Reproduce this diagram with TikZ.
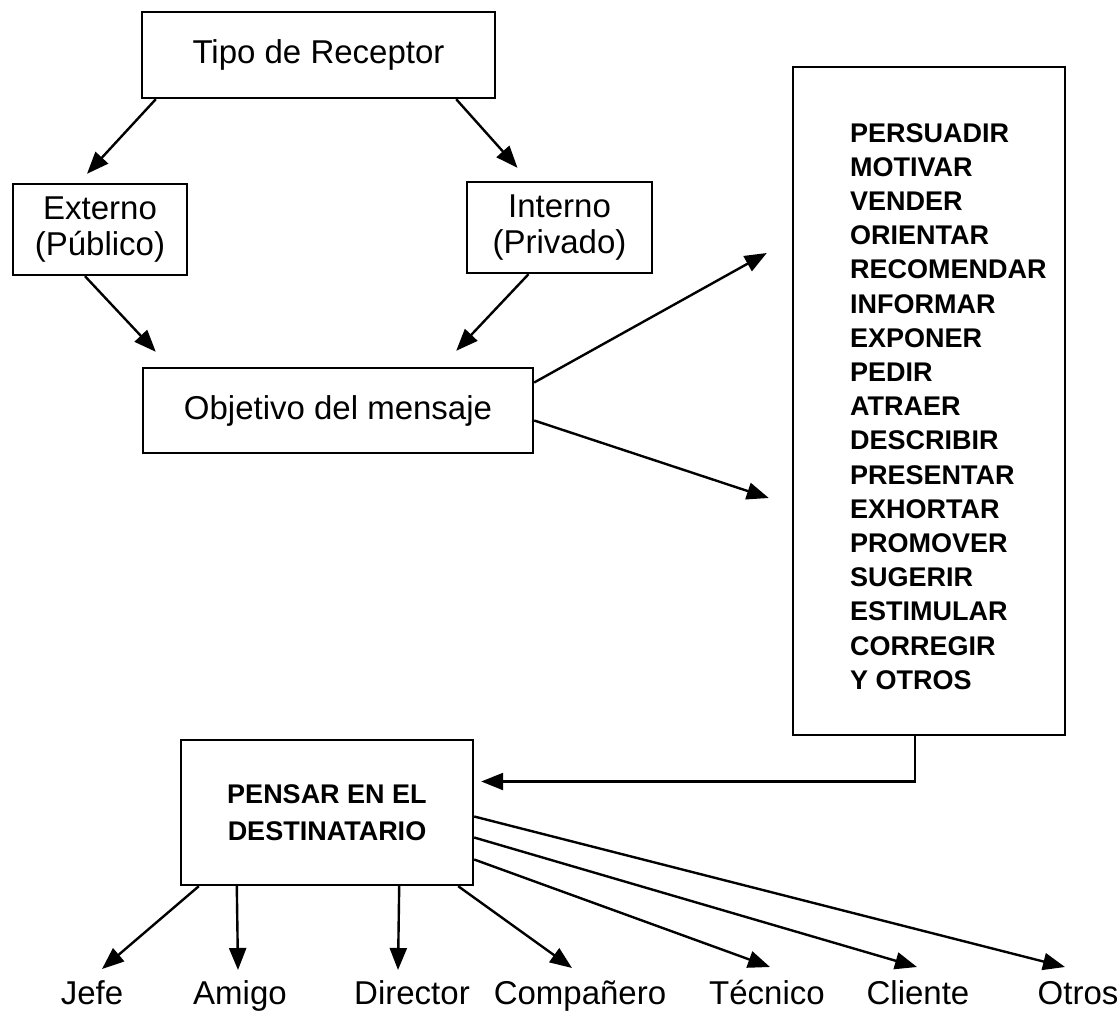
\documentclass[tikz,border=0pt]{standalone}
\usepackage{fontspec}
\setmainfont{Liberation Sans}
\usetikzlibrary{arrows.meta, positioning, calc}

\begin{document}
\begin{tikzpicture}[x=1pt, y=-1pt,
    box/.style={draw, line width=2.4pt, inner sep=0pt, align=center,
      font=\fontsize{33}{36}\selectfont},
    capsbox/.style={box, font=\bfseries\fontsize{27}{37}\selectfont},
    verblist/.style={anchor=north west, inner sep=0pt, align=left,
      font=\bfseries\fontsize{27}{34.2}\selectfont},
    arr/.style={line width=2.4pt, -{Triangle[length=22pt,width=17pt]}},
    lbl/.style={anchor=base, inner sep=0pt, font=\fontsize{33}{36}\selectfont}]
  \useasboundingbox (0,0) rectangle (1120,1017);

  \node[box, minimum width=353, minimum height=86] (tipo) at (318.5,55) {Tipo de Receptor};
  \node[box, minimum width=174, minimum height=91] (ext) at (100,229.5) {Externo\\(Público)};
  \node[box, minimum width=185, minimum height=91] (int) at (559.5,227.5) {Interno\\(Privado)};
  \node[box, minimum width=390, minimum height=85] (obj) at (338,410.5) {Objetivo del mensaje};
  \node[box, minimum width=272, minimum height=668] (list) at (929,401) {};
  \node[verblist] (verbs) at (850,123) {PERSUADIR\\MOTIVAR\\VENDER\\ORIENTAR\\RECOMENDAR\\INFORMAR\\EXPONER\\PEDIR\\ATRAER\\DESCRIBIR\\PRESENTAR\\EXHORTAR\\PROMOVER\\SUGERIR\\ESTIMULAR\\CORREGIR\\Y OTROS};
  \node[capsbox, minimum width=292, minimum height=145] (pen) at (327,812.5) {PENSAR EN EL\\DESTINATARIO};

  \node[lbl] (jefe) at (92,1004) {Jefe};
  \node[lbl] (amigo) at (240,1004) {Amigo};
  \node[lbl] (director) at (412,1004) {Director};
  \node[lbl] (comp) at (580,1004) {Compañero};
  \node[lbl] (tecnico) at (767,1004) {Técnico};
  \node[lbl] (cliente) at (918,1004) {Cliente};
  \node[lbl] (otros) at (1078,1004) {Otros};

  \draw[arr] ([xshift=15pt]tipo.south west) -- ([xshift=-13pt,yshift=9pt]ext.north);
  \draw[arr] ([xshift=-40pt]tipo.south east) -- ([xshift=-42pt,yshift=13pt]int.north);
  \draw[arr] ([xshift=-15pt]ext.south) -- ([xshift=14pt,yshift=15pt]obj.north west);
  \draw[arr] ([xshift=-31pt]int.south) -- ([xshift=-78pt,yshift=16pt]obj.north east);
  \draw[arr] ([yshift=28pt]obj.east) -- ([xshift=-25pt,yshift=148pt]list.west);
  \draw[arr] ([yshift=-10pt]obj.east) -- ([xshift=-23pt,yshift=-97pt]list.west);
  \draw[arr] ([xshift=-14pt]list.south) |- ([xshift=7pt,yshift=31pt]pen.east);

  \draw[arr] ([xshift=19pt]pen.south west) -- ([xshift=10pt,yshift=35pt]jefe.base);
  \draw[arr] ([xshift=57pt]pen.south west) -- ([xshift=-2pt,yshift=34pt]amigo.base);
  \draw[arr] ([xshift=-75pt]pen.south east) -- ([xshift=-14pt,yshift=34pt]director.base);
  \draw[arr] ([xshift=-16pt]pen.south east) -- ([xshift=-8pt,yshift=36pt]comp.base);
  \draw[arr] ([yshift=-47pt]pen.east) -- ([xshift=3pt,yshift=37pt]tecnico.base);
  \draw[arr] ([yshift=-25pt]pen.east) -- ([xshift=-1pt,yshift=37pt]cliente.base);
  \draw[arr] ([yshift=-4pt]pen.east) -- ([xshift=-13pt,yshift=37pt]otros.base);
\end{tikzpicture}
\end{document}
